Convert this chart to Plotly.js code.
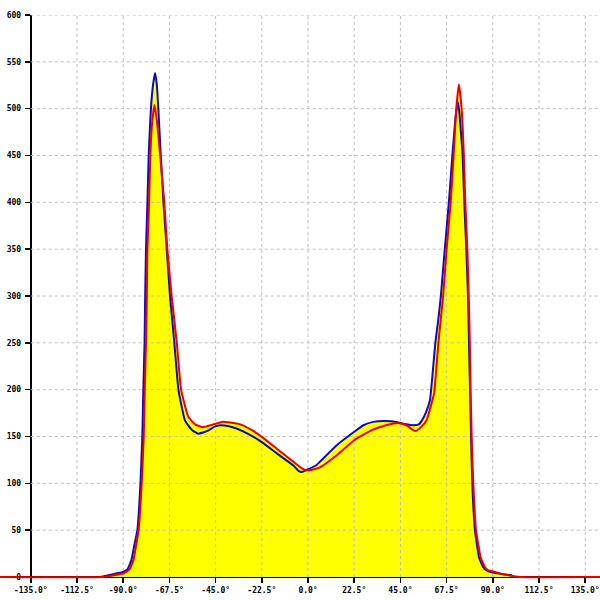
<!DOCTYPE html>
<html>
<head>
<meta charset="utf-8">
<script src="https://cdn.plot.ly/plotly-3.0.1.min.js"></script>
<style>html,body{margin:0;padding:0;background:#fff;}#chart{width:600px;height:600px;}</style>
</head>
<body>
<div id="chart"></div>
<script>
// Tick values and labels
const xTickVals = [-135, -112.5, -90, -67.5, -45, -22.5, 0, 22.5, 45, 67.5, 90, 112.5, 135];
const xTickText = ["-135.0°", "-112.5°", "-90.0°", "-67.5°", "-45.0°", "-22.5°", "0.0°", "22.5°", "45.0°", "67.5°", "90.0°", "112.5°", "135.0°"];
const yTickVals = [0, 50, 100, 150, 200, 250, 300, 350, 400, 450, 500, 550, 600];

// Blue series
const blueX = [-101,-97,-93,-90,-88,-86,-84.5,-83.1,-81.6,-80.7,-80.2,-79.6,-79.3,-78.9,-78.2,-77.6,-76.5,-75.5,-74.5,-73.6,-72.9,-71.7,-70.4,-68.8,-67.2,-65.1,-63.1,-59.9,-56.5,-53.4,-49,-45.5,-42.8,-38.5,-34.8,-28.5,-22.5,-15.2,-7.1,-4.5,-3.1,-1,3.8,5.8,14,22.5,27,31.8,37,43.2,48,51.3,54,55.7,57.5,59.4,60.8,62,63.4,64.7,66.6,68.6,70.3,71.8,72.9,73.6,74.3,75.3,76.1,77.1,77.9,78.4,78.9,79.4,80,81.3,83.4,85.5,87,90,95,99,100];
const blueY = [0,2,4,5.5,8,18,35,50,100,150,200,250,300,350,400,450,500,525,538,525,500,450,400,350,300,250,200,167,157,153,156,160.5,162,161,158.5,152,144,132,119,113,112,114,119,123,140.7,155,162,165.6,166.5,165.6,163,162,163,168,176,189,220,250,274,300,350,400,450,490,507,498,480,450,400,350,300,250,200,150,100,50,20,10,7,4.7,3,2,0];

// Red series
const redX = [-150,-100,-95,-92,-89.6,-87,-85,-84,-82.5,-81,-80,-79.5,-78.9,-78.5,-78.2,-77.4,-76.8,-75.9,-74.8,-73.5,-72,-70,-68.5,-66.4,-63.9,-61.8,-58.3,-55,-51.5,-46,-42,-38,-33,-27.5,-22.5,-15.2,-7.1,-3,-0.6,2,5.8,14,22.5,27,31.8,38,44,48,51,52.5,55,57.7,59.5,61.4,63.5,65.8,67.5,69.5,70.9,72.2,73.5,74.8,75.9,76.6,77.6,78.3,78.8,79.2,79.7,80.5,81.8,84.2,86.3,87.8,91,95,100,103,150];
const redY = [0,0,1.5,3,4,8,18,30,50,100,150,200,250,300,350,400,450,485,504,485,450,400,350,300,250,200,171,163,160,163,165.6,165,163,157,149.6,137,123,116,114,114.5,117,130,146,152,157.5,162,164.5,162,157,156,160,167,180,196,250,300,350,400,450,500,526,500,450,400,350,300,250,200,150,100,50,20,10,7,5.5,3,1,0,0];

const xRange = [-150, 142.2];
const yRange = [-3.2, 600];
const yAxisAt = -135;
const xAxisAt = 0;

// Grid traces built from tick arrays (drawn above the fill, below the lines)
const gridHX = [], gridHY = [];
yTickVals.filter(v => v !== 0).forEach(v => { gridHX.push(yAxisAt, xRange[1], null); gridHY.push(v, v, null); });
const gridVX = [], gridVY = [];
xTickVals.filter(v => v !== yAxisAt).forEach(v => { gridVX.push(v, v, null); gridVY.push(0, yTickVals[yTickVals.length - 1], null); });

const gridStyle = {color: 'rgb(190,190,190)', width: 1, dash: '3px,3px'};
const lineShape = {shape: 'spline', smoothing: 0.4};

const traces = [
  {x: blueX, y: blueY, mode: 'lines', fill: 'tozeroy', fillcolor: '#ffff00', line: Object.assign({width: 0, color: '#ffff00'}, lineShape), hoverinfo: 'skip'},
  {x: redX, y: redY, mode: 'lines', fill: 'tozeroy', fillcolor: '#ffff00', line: Object.assign({width: 0, color: '#ffff00'}, lineShape), hoverinfo: 'skip'},
  {x: gridHX, y: gridHY, mode: 'lines', line: gridStyle, hoverinfo: 'skip', connectgaps: false},
  {x: gridVX, y: gridVY, mode: 'lines', line: gridStyle, hoverinfo: 'skip', connectgaps: false},
  {x: blueX, y: blueY, mode: 'lines', line: Object.assign({width: 2, color: 'rgb(10,10,200)'}, lineShape), hoverinfo: 'skip'},
  {x: redX, y: redY, mode: 'lines', line: Object.assign({width: 2, color: 'rgb(235,0,0)'}, lineShape), hoverinfo: 'skip'}
];

const tickFont = {family: 'DejaVu Sans Mono, monospace', size: 8, color: '#000', weight: 'bold'};

const layout = {
  width: 600, height: 600,
  margin: {l: 0, r: 0, t: 15, b: 20, pad: 0},
  paper_bgcolor: '#fff', plot_bgcolor: '#fff',
  showlegend: false,
  xaxis: {
    range: xRange, anchor: 'free',
    position: (xAxisAt - yRange[0]) / (yRange[1] - yRange[0]),
    tickmode: 'array', tickvals: xTickVals, ticktext: xTickText,
    showgrid: false, zeroline: false, showline: true, linecolor: '#000', linewidth: 2,
    ticks: 'outside', ticklen: 5, tickwidth: 1.5, tickcolor: '#000',
    tickfont: tickFont, layer: 'below traces', fixedrange: true
  },
  yaxis: {
    range: yRange, anchor: 'free',
    position: (yAxisAt - xRange[0]) / (xRange[1] - xRange[0]),
    tickmode: 'array', tickvals: yTickVals,
    showgrid: false, zeroline: false, showline: true, linecolor: '#000', linewidth: 2,
    ticks: 'outside', ticklen: 5, tickwidth: 1.5, tickcolor: '#000',
    tickfont: tickFont, layer: 'below traces', ticklabelstandoff: 2, fixedrange: true
  }
};

Plotly.newPlot('chart', traces, layout, {displayModeBar: false, staticPlot: true});
</script>
</body>
</html>
